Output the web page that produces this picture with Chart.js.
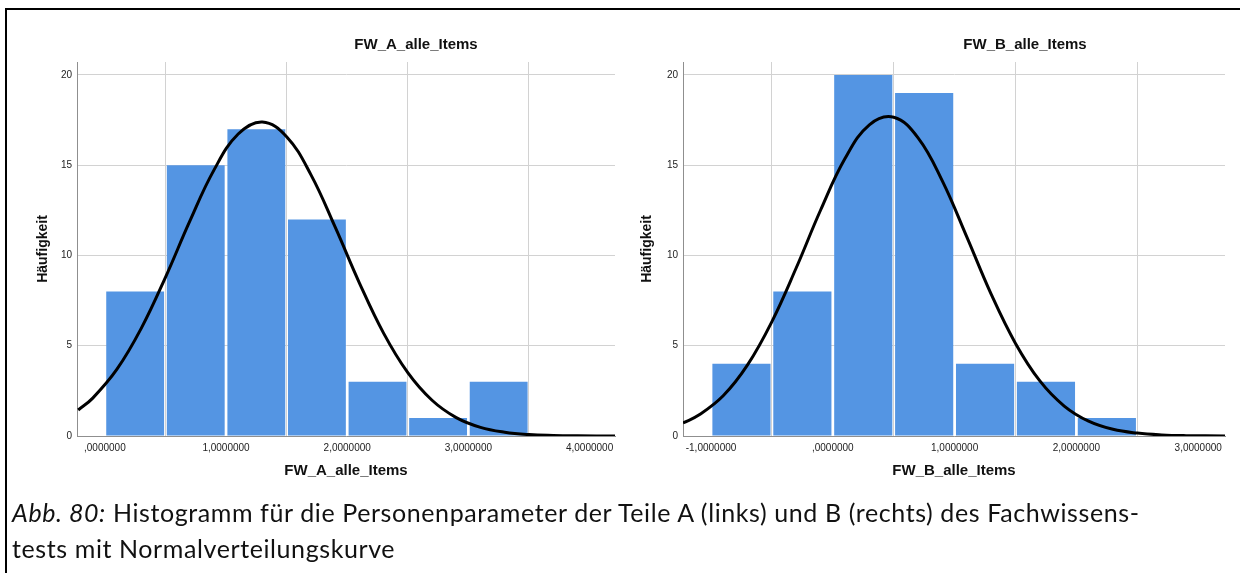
<!DOCTYPE html>
<html>
<head>
<meta charset="utf-8">
<script src="https://cdn.jsdelivr.net/npm/chart.js@4.4.1/dist/chart.umd.min.js"></script>
<style>
  body { margin: 0; width: 1240px; height: 573px; overflow: hidden; background: #fff; position: relative;
         font-family: 'Liberation Sans', Arial, sans-serif; }
  .box { position: absolute; top: 0; width: 620px; height: 500px; }
  .ttl { position: absolute; top: 35px; font-weight: bold; font-size: 15px; color: #111;
         transform: translateX(-50%); white-space: nowrap; }
  #frame { position: absolute; left: 5px; top: 8px; width: 1250px; height: 580px;
           border-left: 2px solid #000; border-top: 2px solid #000; }
  #caption { position: absolute; left: 12px; top: 494px; font-family: Lato, sans-serif;
             font-size: 25px; letter-spacing: 0.6px; line-height: 36px; color: #111; white-space: nowrap; }
</style>
</head>
<body>
<div class="box" style="left:0"><canvas id="histA" width="620" height="500"></canvas></div>
<div class="box" style="left:620px"><canvas id="histB" width="620" height="500"></canvas></div>
<div class="ttl" style="left:416px">FW_A_alle_Items</div>
<div class="ttl" style="left:1025px">FW_B_alle_Items</div>
<div id="frame"></div>
<div id="caption"><i>Abb. 80:</i> Histogramm für die Personenparameter der Teile A (links) und B (rechts) des Fachwissens-<br>tests mit Normalverteilungskurve</div>

<script>
// ── FW_A_alle_Items ──
const binMidsA = [0.25, 0.75, 1.25, 1.75, 2.25, 2.75, 3.25];
const countsA = [8, 15, 17, 12, 3, 1, 3];
const curveXA = [-0.22, -0.1, 0.1, 0.3, 0.5, 0.7, 0.9, 1.1, 1.3, 1.5, 1.7, 1.9, 2.1, 2.3, 2.5, 2.7, 2.9, 3.1, 3.3, 3.5, 3.7, 3.9, 4.21];
const curveYA = [1.44, 2.10, 3.70, 5.96, 8.79, 11.89, 14.73, 16.73, 17.40, 16.58, 14.48, 11.58, 8.49, 5.70, 3.51, 1.98, 1.02, 0.48, 0.21, 0.08, 0.03, 0.01, 0];
const xTicksA = [0, 1, 2, 3, 4];
const xLabelsA = [',0000000', '1,0000000', '2,0000000', '3,0000000', '4,0000000'];

// ── FW_B_alle_Items ──
const binMidsB = [-0.75, -0.25, 0.25, 0.75, 1.25, 1.75, 2.25];
const countsB = [4, 8, 20, 19, 4, 3, 1];
const curveXB = [-1.23, -1.1, -0.9, -0.7, -0.5, -0.3, -0.1, 0.1, 0.3, 0.5, 0.7, 0.9, 1.1, 1.3, 1.5, 1.7, 1.9, 2.1, 2.3, 2.5, 2.7, 2.9, 3.22];
const curveYB = [0.72, 1.16, 2.23, 3.94, 6.34, 9.32, 12.52, 15.37, 17.24, 17.66, 16.52, 14.12, 11.03, 7.86, 5.13, 3.05, 1.66, 0.82, 0.37, 0.16, 0.06, 0.02, 0];
const xTicksB = [-1, 0, 1, 2, 3];
const xLabelsB = ['-1,0000000', ',0000000', '1,0000000', '2,0000000', '3,0000000'];

const yTicks = [0, 5, 10, 15, 20];
const BAR = '#5495e3';
const GRID = '#d2d2d2';
const AXIS = '#8f8f8f';

function makeHist(id, o) {
  return new Chart(document.getElementById(id), {
    type: 'bar',
    data: {
      datasets: [
        {
          type: 'line', order: 1,
          data: o.cx.map((x, i) => ({ x, y: o.cy[i] })),
          borderColor: '#000', borderWidth: 3, pointRadius: 0,
          tension: 0.4, fill: false
        },
        {
          type: 'bar', order: 2,
          data: o.mids.map((x, i) => ({ x, y: o.counts[i] })),
          backgroundColor: BAR, borderWidth: 0,
          categoryPercentage: 1, barPercentage: 0.955
        }
      ]
    },
    options: {
      responsive: false, animation: false,
      layout: { padding: o.pad },
      plugins: { legend: { display: false }, tooltip: { enabled: false } },
      scales: {
        x: {
          type: 'linear', min: o.xmin, max: o.xmax, offset: false,
          afterBuildTicks: s => { s.ticks = o.ticks.map(v => ({ value: v })); },
          afterFit: s => { s.height = 54; },
          grid: { color: GRID, drawTicks: false },
          border: { color: AXIS },
          ticks: {
            autoSkip: false, maxRotation: 0, padding: 6, color: '#222',
            font: { family: 'Liberation Sans', size: 10 },
            callback: v => o.labels[o.ticks.indexOf(v)]
          },
          title: {
            display: true, text: o.title, color: '#111',
            font: { family: 'Liberation Sans', size: 15, weight: 'bold' },
            padding: { top: 0, bottom: 10 }
          }
        },
        y: {
          min: 0, max: 20.72,
          afterBuildTicks: s => { s.ticks = yTicks.map(v => ({ value: v })); },
          afterFit: s => { s.width = o.yw; },
          grid: { color: GRID, drawTicks: false },
          border: { color: AXIS },
          ticks: { padding: 5, color: '#222', font: { family: 'Liberation Sans', size: 10 } },
          title: {
            display: true, text: 'Häufigkeit', color: '#111',
            font: { family: 'Liberation Sans', size: 14, weight: 'bold' },
            padding: { top: 11, bottom: 0 }
          }
        }
      }
    }
  });
}

makeHist('histA', {
  mids: binMidsA, counts: countsA, cx: curveXA, cy: curveYA,
  ticks: xTicksA, labels: xLabelsA, title: 'FW_A_alle_Items',
  xmin: -0.23, xmax: 4.21, yw: 53,
  pad: { left: 24, right: 5, top: 62, bottom: 10 }
});
makeHist('histB', {
  mids: binMidsB, counts: countsB, cx: curveXB, cy: curveYB,
  ticks: xTicksB, labels: xLabelsB, title: 'FW_B_alle_Items',
  xmin: -1.23, xmax: 3.22, yw: 55,
  pad: { left: 8, right: 15, top: 62, bottom: 10 }
});
</script>
</body>
</html>
